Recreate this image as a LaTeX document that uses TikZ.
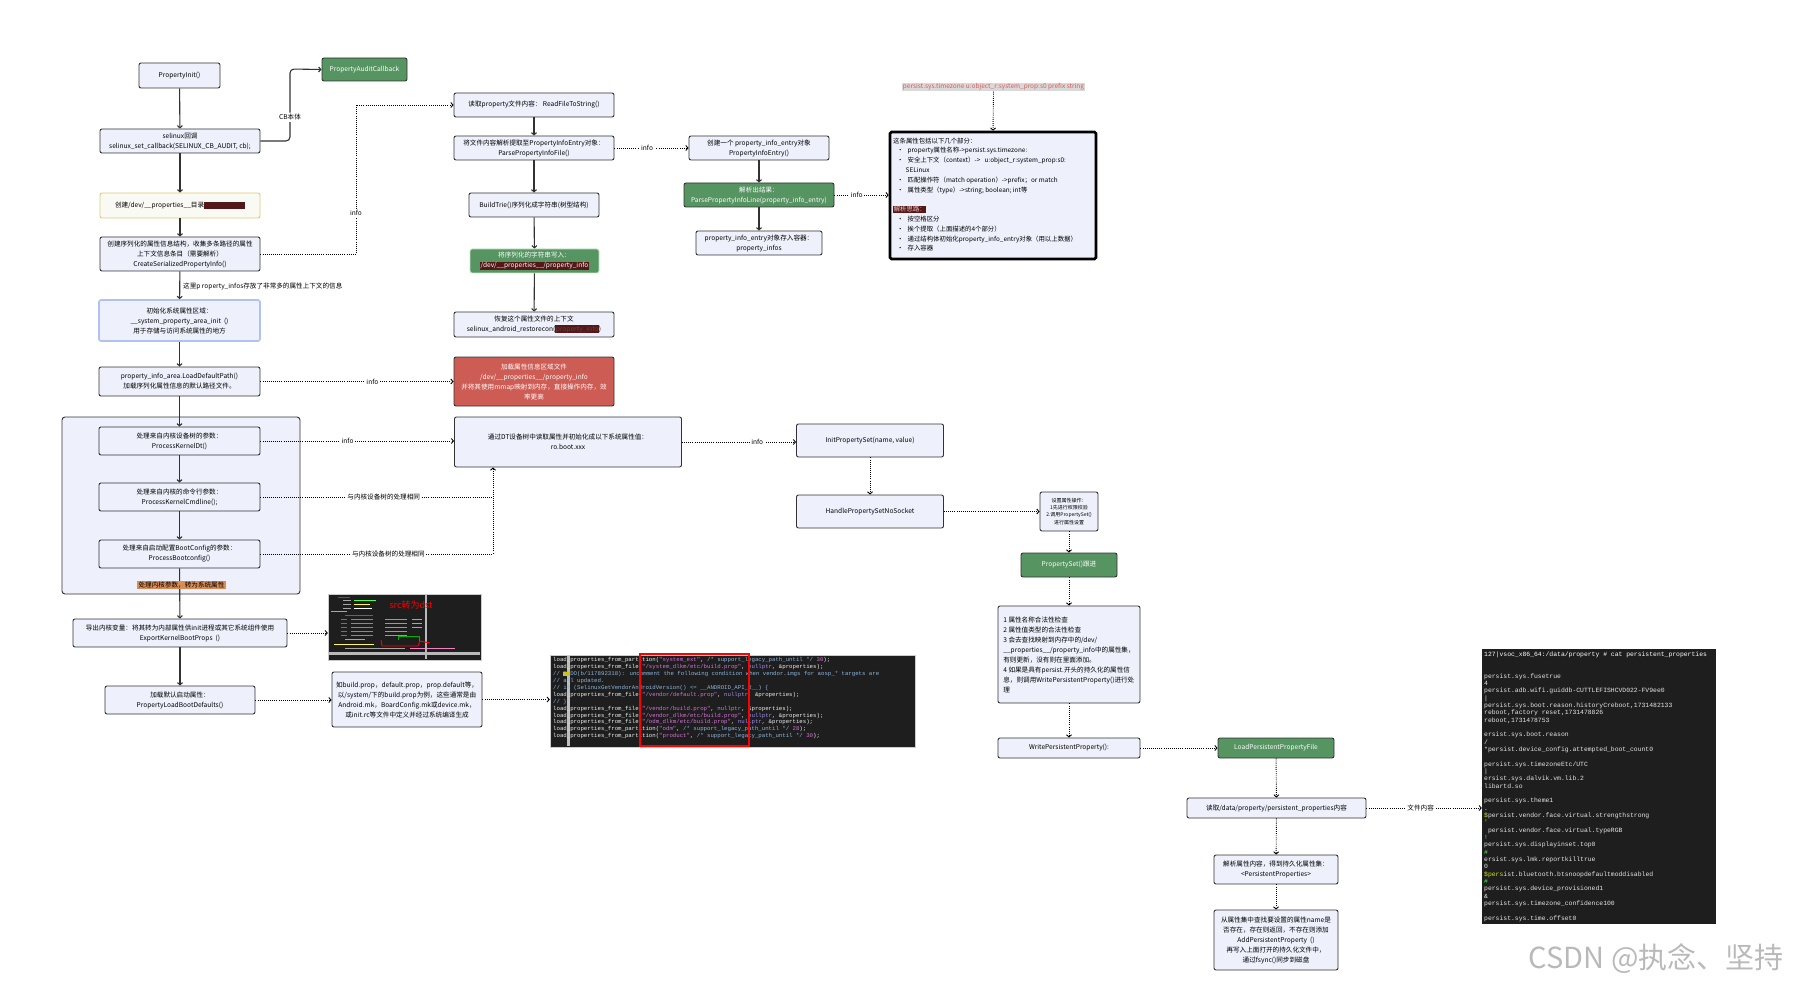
\documentclass[tikz,border=0pt]{standalone}
\usepackage{fontspec}
\setmainfont{Noto Sans CJK SC}
\newfontfamily\codefont{Liberation Mono}
\usetikzlibrary{arrows.meta,positioning}
\definecolor{boxc}{RGB}{238,241,251}
\definecolor{linec}{RGB}{50,50,50}
\definecolor{greenc}{RGB}{86,148,98}
\definecolor{redc}{RGB}{205,92,84}
\definecolor{orangec}{RGB}{217,140,84}
\definecolor{hlred}{RGB}{84,24,24}
\definecolor{termbg}{RGB}{30,30,30}
\definecolor{codestr}{RGB}{214,112,214}
\definecolor{codecmt}{RGB}{140,180,220}
\definecolor{codekw}{RGB}{160,140,240}
\newcommand\fs{\fontsize{6.6}{10}\selectfont}
\newcommand\darkmark[2][white]{{\setlength\fboxsep{0.6pt}\colorbox{hlred}{\textcolor{#1}{#2}}}}
\newcommand\cstr[1]{\textcolor{codestr}{#1}}
\newcommand\ccmt[1]{\textcolor{codecmt}{#1}}
\newcommand\ckw[1]{\textcolor{codekw}{#1}}
\tikzset{
  box/.style={draw=linec,fill=boxc,rounded corners=2pt,line width=0.9pt,align=center,inner sep=1.5pt,font=\fs},
  gbox/.style={box,fill=greenc,text=white},
  rbox/.style={box,fill=redc,text=white},
  sz/.style 2 args={minimum width=#1pt,minimum height=#2pt},
  flowarr/.style={draw=linec,line width=1.1pt,-{Straight Barb[length=2.2pt,width=5pt]}},
  dotline/.style={line width=0.9pt,dash pattern=on 0.9pt off 1.2pt},
  dotarr/.style={dotline,-{Straight Barb[length=2.2pt,width=5pt]}},
  lbl/.style={fill=white,inner sep=1.5pt,font=\fs},
}

\begin{document}
\begin{tikzpicture}[x=1pt,y=-1pt]
  \useasboundingbox (0,0) rectangle (1796,992);
  % left column
  \node[box,sz={81}{25}] (pinit) at (179.5,75.5) {PropertyInit()};
  \node[gbox,sz={85}{23}] (auditcb) at (364.5,69.5) {PropertyAuditCallback};
  \node[box,sz={160}{24}] (selcb) at (180,141) {selinux回调\\selinux\_set\_callback(SELINUX\_CB\_AUDIT, cb);};
  \node[box,draw={rgb,255:red,226;green,200;blue,120},fill={rgb,255:red,250;green,250;blue,244},sz={160}{25}] (mkdev) at (180,205.5) {创建/dev/\_\_properties\_\_目录\darkmark{\phantom{（属性区域）}}};
  \node[box,sz={160}{34}] (serinfo) at (180,254) {创建序列化的属性信息结构，收集多条路径的属性\\上下文信息条目（需要解析）\\CreateSerializedPropertyInfo()};
  \node[anchor=west,font=\fs,inner sep=0] at (183,286) {这里p roperty\_infos存放了非常多的属性上下文的信息};
  \node[box,draw={rgb,255:red,176;green,194;blue,242},line width=1.6pt,sz={161}{41}] (sysarea) at (179.5,320.5) {初始化系统属性区域：\\\_\_system\_property\_area\_init\ \ ()\\用于存储与访问系统属性的地方};
  \node[box,sz={161}{29}] (loaddef) at (179.5,381.5) {property\_info\_area.LoadDefaultPath()\\加载序列化属性信息的默认路径文件。};
  \node[box,rounded corners=3pt,sz={238}{177}] (kgroup) at (181,505.5) {};
  \node[box,sz={161}{28}] (kdt) at (179.5,441) {处理来自内核设备树的参数：\\ProcessKernelDt()};
  \node[box,sz={161}{28}] (kcmd) at (179.5,497) {处理来自内核的命令行参数：\\ProcessKernelCmdline();};
  \node[box,sz={161}{28}] (kboot) at (179.5,554) {处理来自启动配置BootConfig的参数：\\ProcessBootconfig()};
  \node[box,sz={214}{28}] (expk) at (180,633) {导出内核变量：将其转为内部属性供init进程或其它系统组件使用\\ExportKernelBootProps\ \ ()};
  \node[box,sz={150}{28}] (loadboot) at (180,700) {加载默认启动属性：\\PropertyLoadBootDefaults()};
  \node[box,sz={150}{55}] (srclist) at (407,699.5) {如build.prop，default.prop，prop.default等，\\以/system/下的build.prop为例，这些通常是由\\Android.mk，BoardConfig.mk或device.mk，\\或init.rc等文件中定义并经过系统编译生成};

  % middle column
  \node[box,sz={160}{24}] (readf) at (534,105) {读取property文件内容：\ ReadFileToString()};
  \node[box,sz={160}{24}] (parsef) at (534,148) {将文件内容解析提取至PropertyInfoEntry对象：\\ParsePropertyInfoFile()};
  \node[box,sz={130}{24}] (trie) at (534,205) {BuildTrie()序列化成字符串(树型结构)};
  \node[gbox,draw={rgb,255:red,200;green,230;blue,200},sz={129}{24}] (wrinfo) at (534.5,261) {将序列化的字符串写入：\\\darkmark{/dev/\_\_properties\_\_/property\_info}};
  \node[box,sz={160}{25}] (restore) at (534,324.5) {恢复这个属性文件的上下文\\selinux\_android\_restorecon(\darkmark[hlred!60!gray]{property\_info})};
  \node[rbox,sz={160}{49}] (mmapbox) at (534,381.5) {加载属性信息区域文件\\/dev/\_\_properties\_\_/property\_info\\并将其使用mmap映射到内存，直接操作内存，效\\率更高};
  \node[box,sz={227}{50}] (dtbox) at (568,442) {通过DT设备树中读取属性并初始化成以下系统属性值：\\ro.boot.xxx};

  % entry column
  \node[box,sz={140}{24}] (newentry) at (759,148) {创建一个 property\_info\_entry对象\\PropertyInfoEntry()};
  \node[gbox,sz={150}{24}] (parseline) at (759,195) {解析出结果：\\ParsePropertyInfoLine(property\_info\_entry)};
  \node[box,sz={126}{24}] (storeinfos) at (759,243) {property\_info\_entry对象存入容器：\\property\_infos};
  \node[fill=gray!30,text={rgb,255:red,222;green,90;blue,90},inner sep=1pt,font=\fontsize{6.5}{7.5}\selectfont] (fmtline) at (993.5,87) {persist.sys.timezone u:object\_r:system\_prop:s0 prefix string};
  \node[draw=black,fill=boxc,line width=2.6pt,rounded corners=1.5pt,sz={206}{127}] (fmtbox) at (993,195.5) {};
  \node[anchor=north west,align=left,inner sep=0,font=\fontsize{6.4}{9.8}\selectfont] at (893,137.5) {这条属性包括以下几个部分：\\
    \hspace*{4pt}•\hspace{4pt}property属性名称->persist.sys.timezone:\\
    \hspace*{4pt}•\hspace{4pt}安全上下文（context）->\ \ \ u:object\_r:system\_prop:s0:\\
    \hspace*{12.5pt}SELinux\\
    \hspace*{4pt}•\hspace{4pt}匹配操作符（match operation）->prefix；or match\\
    \hspace*{4pt}•\hspace{4pt}属性类型（type）->string; boolean; int等\\
    \mbox{}\\
    \darkmark[{rgb,255:red,240;green,200;blue,200}]{解析思路：}\\
    \hspace*{4pt}•\hspace{4pt}按空格区分\\
    \hspace*{4pt}•\hspace{4pt}挨个提取（上面描述的4个部分）\\
    \hspace*{4pt}•\hspace{4pt}通过结构体初始化property\_info\_entry对象（用以上数据）\\
    \hspace*{4pt}•\hspace{4pt}存入容器};

  % set flow
  \node[box,sz={147}{33}] (initset) at (870,440.5) {InitPropertySet(name, value)};
  \node[box,sz={147}{33}] (handleset) at (870,511.5) {HandlePropertySetNoSocket};
  \node[box,sz={58}{39},font=\fontsize{5}{7.2}\selectfont] (setop) at (1069,511.5) {设置属性操作：\\1先进行权限校验\\2.调用PropertySet()\\进行属性设置};
  \node[gbox,sz={96}{24}] (propset) at (1069,565) {PropertySet()跟进};
  \node[box,sz={142}{97},align=left] (checks) at (1069,654.5) {1 属性名称合法性检查\\2 属性值类型的合法性检查\\3 会去查找映射到内存中的/dev/\\\_\_properties\_\_/property\_info中的属性集，\\有则更新，没有则在里面添加。\\4 如果是具有persist.开头的持久化的属性信\\息，则调用WritePersistentProperty()进行处\\理};
  \node[box,sz={142}{20}] (wrpers) at (1069,748) {WritePersistentProperty():};
  \node[gbox,sz={116}{20}] (loadpers) at (1276,748) {LoadPersistentPropertyFile};
  \node[box,sz={179}{20}] (readpers) at (1276.5,808) {读取/data/property/persistent\_properties内容};
  \node[box,sz={124}{29}] (parsepers) at (1276,869.5) {解析属性内容，得到持久化属性集：\\<PersistentProperties>};
  \node[box,sz={124}{60}] (addpers) at (1276,940) {从属性集中查找要设置的属性name是\\否存在，存在则返回，不存在则添加\\AddPersistentProperty\ \ ()\\再写入上面打开的持久化文件中，\\通过fsync()同步到磁盘};

  % small screenshot
  \node[fill=termbg,draw=gray!40,sz={153}{66},inner sep=0] (shot) at (404.5,627) {};
  \foreach \y/\a/\b/\c in {597/338/12/green!60!black,600/343/8/gray!70,600/354/22/green!70,604/343/8/gray!70,604/354/16/yellow!70,
      608/343/8/gray!70,608/354/18/white,611/331/16/gray!70,615/345/28/cyan!60!blue,619/341/6/violet!70,619/351/22/magenta!70,
      619/385/22/magenta!60,619/412/10/gray!70,623/341/6/violet!70,623/351/22/magenta!70,623/385/22/magenta!60,623/412/10/gray!70,
      627/341/6/violet!70,627/351/22/magenta!70,627/385/22/magenta!60,627/412/10/gray!70,631/341/6/violet!70,631/351/22/magenta!70,
      631/385/22/magenta!60,635/341/6/violet!70,635/351/22/magenta!70,635/385/22/magenta!60,639/345/20/gray!70,644/334/40/yellow!60,
      648/345/60/gray!70,648/410/45/magenta!50}
    \fill[\c] (\a,\y) rectangle ++(\b,1.1);
  \fill[gray!55] (329,652) rectangle (480,655);
  \fill[gray!55] (425,595) rectangle (427,659);
  \node[text=red,font=\fontsize{9}{10}\selectfont,inner sep=0] (srcdst) at (411,605) {src转为dst};
  \draw[red,line width=0.9pt] (381,640) -- (382,646) -- (418,646) -- (420,641) -- (430,643);
  \draw[green!70!black,line width=0.9pt] (398,640) -- (398,636) -- (419,636) -- (419,641);

  % code screenshot
  \node[fill=termbg,draw=gray!40,sz={365}{92},inner sep=0] (codeshot) at (732.5,701) {};
  \fill[gray!50] (567,656) rectangle (570,746);
  \node[anchor=north west,align=left,inner sep=0,text=gray!15,font=\codefont\fontsize{5.7}{6.9}\selectfont] at (553,657.5) {%
    load\_properties\_from\_partition(\cstr{"system\_ext"}, \ccmt{/* support\_legacy\_path\_until */} \cstr{30});\\
    load\_properties\_from\_file(\cstr{"/system\_dlkm/etc/build.prop"}, \ckw{nullptr}, \&properties);\\
    \ccmt{// {\setlength\fboxsep{0pt}\colorbox{yellow!60!olive}{TO}}DO(b/117892318): uncomment the following condition when vendor.imgs for aosp\_* targets are}\\
    \ccmt{// all updated.}\\
    \ccmt{// if (SelinuxGetVendorAndroidVersion() <= \_\_ANDROID\_API\_R\_\_) \{}\\
    load\_properties\_from\_file(\cstr{"/vendor/default.prop"}, \ckw{nullptr}, \&properties);\\
    \ccmt{// \}}\\
    load\_properties\_from\_file(\cstr{"/vendor/build.prop"}, \ckw{nullptr}, \&properties);\\
    load\_properties\_from\_file(\cstr{"/vendor\_dlkm/etc/build.prop"}, \ckw{nullptr}, \&properties);\\
    load\_properties\_from\_file(\cstr{"/odm\_dlkm/etc/build.prop"}, \ckw{nullptr}, \&properties);\\
    load\_properties\_from\_partition(\cstr{"odm"}, \ccmt{/* support\_legacy\_path\_until */} \cstr{28});\\
    load\_properties\_from\_partition(\cstr{"product"}, \ccmt{/* support\_legacy\_path\_until */} \cstr{30});};
  \draw[red,line width=1.1pt] (640,654) rectangle (749,746);

  % terminal
  \node[fill=termbg,sz={234}{275},inner sep=0] (term) at (1599,786.5) {};
  \node[anchor=north west,align=left,inner sep=0,text=gray!20,font=\codefont\fontsize{6.4}{7.33}\selectfont] at (1484,651.5) {%
    \textcolor{white}{127|vsoc\_x86\_64:/data/property \# cat persistent\_properties}\\ \mbox{}\\ \mbox{}\\
    persist.sys.fusetrue\\ 4\\ persist.adb.wifi.guiddb-CUTTLEFISHCVD022-FV9ee0\\ |\\
    persist.sys.boot.reason.historyCreboot,1731482133\\ reboot,factory reset,1731478826\\ reboot,1731478753\\ \mbox{}\\
    ersist.sys.boot.reason\\ /\\ *persist.device\_config.attempted\_boot\_count0\\ \mbox{}\\
    persist.sys.timezoneEtc/UTC\\ |\\ ersist.sys.dalvik.vm.lib.2\\ libartd.so\\ \mbox{}\\
    persist.sys.theme1\\ .\\ \textcolor{yellow!80!green}{\$}persist.vendor.face.virtual.strengthstrong\\ \textcolor{yellow!80!green}{'}\\
    \ persist.vendor.face.virtual.typeRGB\\ \textcolor{green!70}{!}\\ persist.sys.displayinset.top0\\ \textcolor{green!70}{\#}\\
    ersist.sys.lmk.reportkilltrue\\ 0\\ \textcolor{yellow!80!green}{\$pers}ist.bluetooth.btsnoopdefaultmoddisabled\\ \textcolor{green!70}{\#}\\
    persist.sys.device\_provisioned1\\ \&\\ persist.sys.timezone\_confidence100\\ \mbox{}\\ persist.sys.time.offset0};

  % solid flow
  \draw[flowarr] (pinit) -- (selcb);
  \draw[flowarr] (selcb) -- (mkdev);
  \draw[flowarr] (mkdev) -- (serinfo);
  \draw[flowarr] (serinfo) -- (sysarea);
  \draw[flowarr] (sysarea) -- (loaddef);
  \draw[flowarr] (loaddef) -- (kdt);
  \draw[flowarr] (kdt) -- (kcmd);
  \draw[flowarr] (kcmd) -- (kboot);
  \draw[flowarr] (kboot) -- (expk);
  \draw[flowarr] (expk) -- (loadboot);
  \coordinate (cbA) at (290,141);
  \coordinate (cbB) at (290,69);
  \draw[flowarr,rounded corners=4pt] (selcb.east) -- (cbA) -- node[lbl,pos=0.33]{CB本体} (cbB) -- (auditcb.west);
  \draw[flowarr] (readf) -- (parsef);
  \draw[flowarr] (parsef) -- (trie);
  \draw[flowarr] (trie) -- (wrinfo);
  \draw[flowarr] (wrinfo) -- (restore);
  \draw[flowarr] (newentry) -- (parseline);
  \draw[flowarr] (parseline) -- (storeinfos);
  \node[fill=orangec,inner sep=1.2pt,font=\fs] (kbar) at (181.5,585) {处理内核参数，转为系统属性};

  % dotted links
  \coordinate (infoA) at (356,254);
  \coordinate (infoB) at (356,105);
  \draw[dotarr] (serinfo.east) -- (infoA) -- node[lbl,pos=0.275]{info} (infoB) -- (readf.west);
  \draw[dotarr] (loaddef.east) -- node[lbl,pos=0.58]{info} (loaddef.east -| mmapbox.west);
  \draw[dotarr] (kdt.east) -- node[lbl,pos=0.45]{info} (kdt.east -| dtbox.west);
  \coordinate (jcmd) at (493,497);
  \coordinate (jboot) at (493,554);
  \draw[dotline] (kcmd.east) -- node[lbl,pos=0.53]{与内核设备树的处理相同} (jcmd);
  \draw[dotarr] (kboot.east) -- node[lbl,pos=0.55]{与内核设备树的处理相同} (jboot) -- (jboot |- dtbox.south);
  \draw[dotarr] (parsef.east) -- node[lbl,pos=0.44]{info} (parsef.east -| newentry.west);
  \draw[dotarr] (parseline.east) -- node[lbl,pos=0.41]{info} (parseline.east -| fmtbox.west);
  \draw[dotarr] (fmtline.south) -- (fmtbox.north);
  \draw[dotarr] (dtbox.east) -- node[lbl,pos=0.66]{info} (dtbox.east -| initset.west);
  \draw[dotarr] (initset) -- (handleset);
  \draw[dotarr] (handleset) -- (setop);
  \draw[dotarr] (setop) -- (propset);
  \draw[dotarr] (propset) -- (checks);
  \draw[dotarr] (checks) -- (wrpers);
  \draw[dotarr] (wrpers) -- (loadpers);
  \draw[dotarr] (loadpers) -- (readpers);
  \draw[dotarr] (readpers) -- (parsepers);
  \draw[dotarr] (parsepers) -- (addpers);
  \draw[dotarr] (readpers.east) -- node[lbl,pos=0.47]{文件内容} (readpers.east -| term.west);
  \draw[dotarr] (expk.east) -- (expk.east -| shot.west);
  \draw[dotarr] (loadboot.east) -- (loadboot.east -| srclist.west);
  \draw[dotarr] (srclist.east) -- (srclist.east -| codeshot.west);

  \node[anchor=east,text=gray!55,font=\fontsize{29}{32}\selectfont] (mark) at (1787,959) {CSDN @执念、坚持};
\end{tikzpicture}
\end{document}
